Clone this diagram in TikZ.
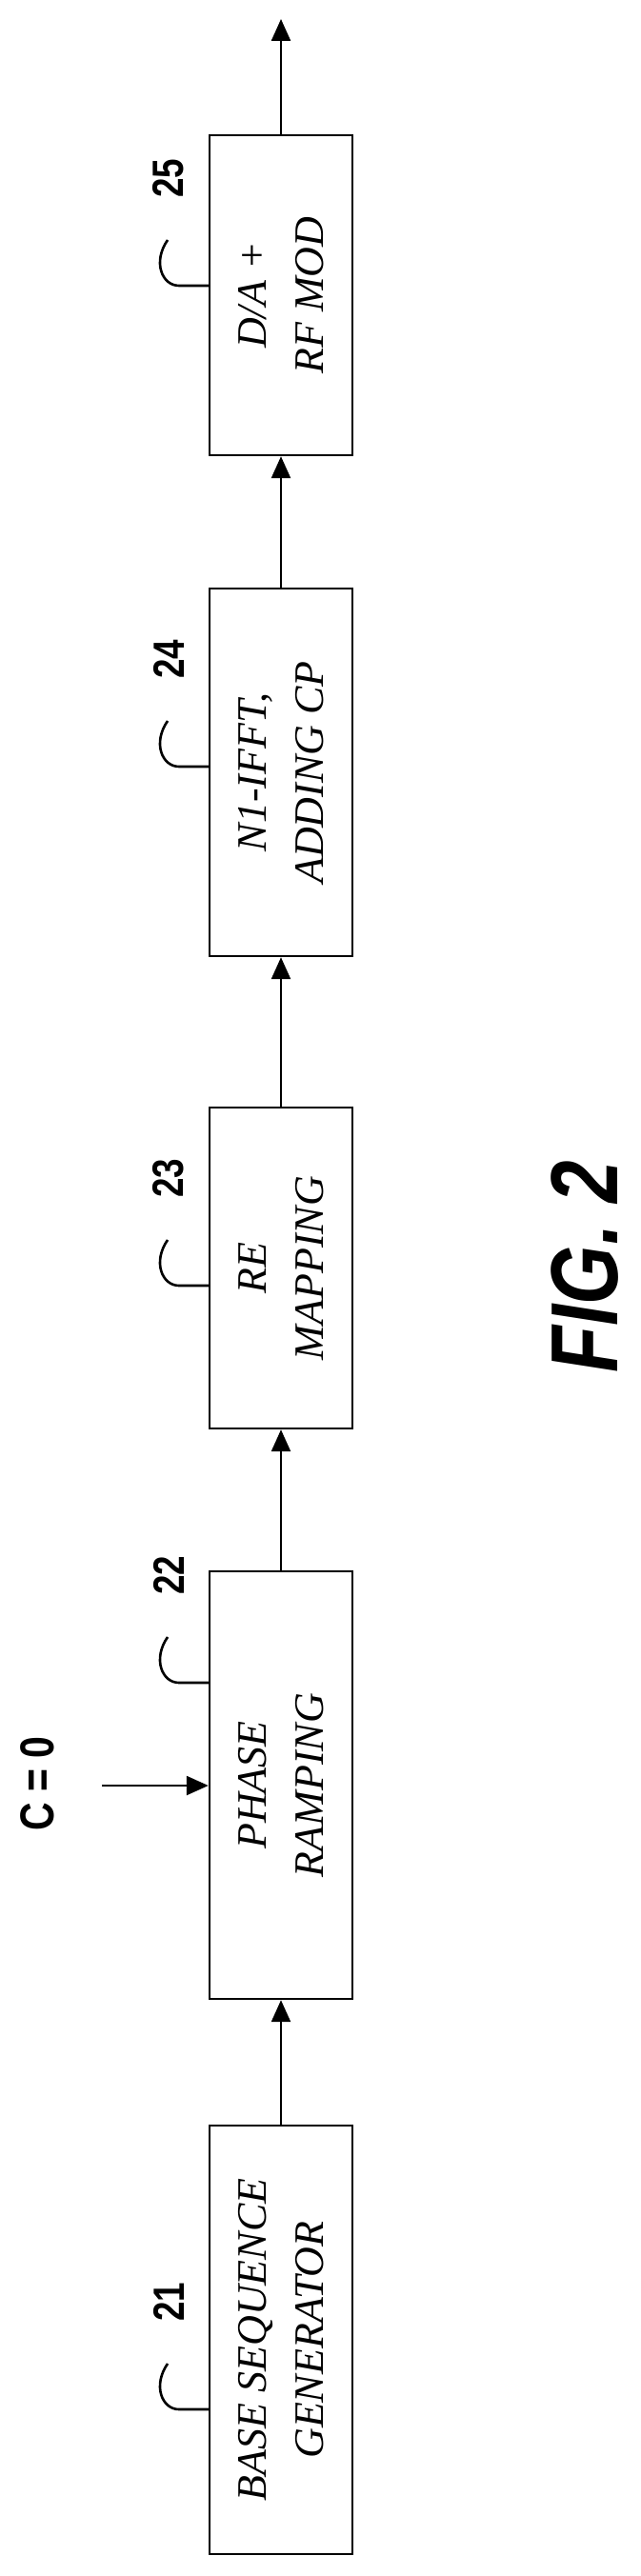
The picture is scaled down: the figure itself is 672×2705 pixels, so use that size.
\documentclass[tikz,border=0pt]{standalone}
\usepackage{fontspec}
\setmainfont{Liberation Serif}
\setsansfont{Liberation Sans}
\usetikzlibrary{arrows.meta}
\begin{document}
\begin{tikzpicture}[x=1pt,y=-1pt,
  blk/.style={draw,line width=2.4pt,minimum width=150pt,inner sep=0pt},
  txt/.style={rotate=90,align=center,font=\fontsize{44}{60}\selectfont\itshape},
  num/.style={rotate=90,font=\fontsize{46}{46}\selectfont\sffamily\bfseries,xscale=0.8},
  ar/.style={line width=2.4pt,-{Triangle[length=23pt,width=20pt]}},
  hk/.style={line width=2.6pt}]
\useasboundingbox (0,0) rectangle (672,2705);
\path[fill=white] (0,0) rectangle (672,2705);
% boxes
\node[blk,minimum height=450pt] (b21) at (295,2457) {};
\node[blk,minimum height=449pt] (b22) at (295,1874.5) {};
\node[blk,minimum height=337pt] (b23) at (295,1331.5) {};
\node[blk,minimum height=386pt] (b24) at (295,811) {};
\node[blk,minimum height=336pt] (b25) at (295,310) {};
\node[txt] (t21) at (b21) {BASE SEQUENCE\\GENERATOR};
\node[txt] (t22) at (b22) {PHASE\\RAMPING};
\node[txt] (t23) at (b23) {RE\\MAPPING};
\node[txt] (t24) at (b24) {N1-IFFT,\\ADDING CP};
\node[txt] (t25) at (b25) {D/A +\\RF MOD};
% arrows
\coordinate (out) at (295,20);
\draw[ar] (b21.north) -- (b22.south);
\draw[ar] (b22.north) -- (b23.south);
\draw[ar] (b23.north) -- (b24.south);
\draw[ar] (b24.north) -- (b25.south);
\draw[ar] (b25.north) -- (out);
% C = 0 input
\node[rotate=90,font=\fontsize{50}{50}\selectfont\sffamily\bfseries,xscale=0.82] (c0) at (39,1873) {C = 0};
\coordinate (cin) at (107,1875);
\draw[ar] (cin) -- (b22.west |- cin);
% reference hooks and numbers
\foreach \b/\h/\n in {21/2530/21,22/1767/22,23/1350/23,24/805/24,25/300/25}{
  \draw[hk] (220,\h) -- (188,\h) .. controls (170,\h) and (160,\h-25) .. (176,\h-48);
  \node[num] (n\n) at (177,\h-113) {\n};
}
% figure label
\node[rotate=90,font=\fontsize{100}{100}\selectfont\sffamily\bfseries\itshape,xscale=0.8] (fig) at (614,1330) {FIG. 2};
\end{tikzpicture}
\end{document}
